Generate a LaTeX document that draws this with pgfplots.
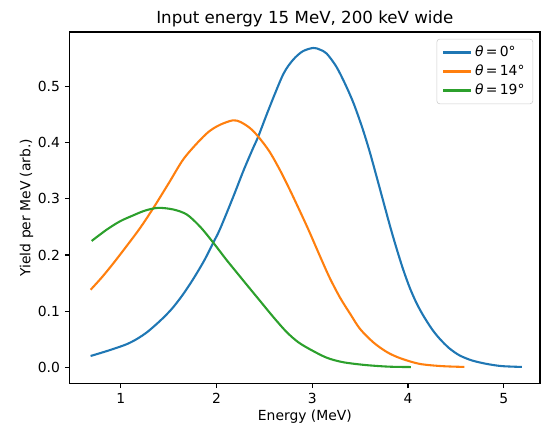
\documentclass[border=0pt]{standalone}
\usepackage{fontspec}
\setmainfont{DejaVu Sans}
\usepackage{pgfplots}
\pgfplotsset{compat=1.18}
\definecolor{tabblue}{HTML}{1F77B4}
\definecolor{taborange}{HTML}{FF7F0E}
\definecolor{tabgreen}{HTML}{2CA02C}

\begin{document}
\fontsize{10}{12}\selectfont
\begin{tikzpicture}
\begin{axis}[
  name=ax,
  scale only axis,
  width=338.6pt, height=252.9pt,
  xmin=0.465, xmax=5.38,
  ymin=-0.0285, ymax=0.5975,
  xtick={1,2,3,4,5},
  ytick={0,0.1,0.2,0.3,0.4,0.5},
  yticklabel style={/pgf/number format/.cd, fixed, fixed zerofill, precision=1},
  /pgf/number format/assume math mode=true,
  ticklabel style={font=\fontsize{10}{12}\selectfont},
  tick align=outside,
  xtick pos=bottom, ytick pos=left,
  major tick length=3.5pt,
  tick style={black, line width=0.8pt},
  axis line style={line width=0.8pt},
  title={Input energy 15 MeV, 200 keV wide},
  title style={font=\fontsize{12}{14}\selectfont, yshift=-5.8pt},
  xlabel={Energy (MeV)},
  ylabel={Yield per MeV (arb.)},
  label style={font=\fontsize{10}{12}\selectfont},
  xlabel style={yshift=2.2pt},
  ylabel style={yshift=-3.6pt},
  legend cell align=left,
  legend style={at={(1,1)}, anchor=north east, xshift=-5pt, yshift=-5pt,
    draw=black!20, rounded corners=2pt, font=\fontsize{10}{12}\selectfont,
    row sep=0.5pt, inner xsep=4pt, inner ysep=3pt},
  legend image code/.code={\draw[#1, line width=1.5pt] (0pt,0pt) -- (20pt,0pt);},
  every axis plot/.append style={line width=1.5pt, line join=round, smooth, tension=0.5},
]
% theta = 0 deg
\addplot[color=tabblue] coordinates {
  (0.683,0.020)(0.80,0.026)(0.92,0.0325)(1.06,0.041)(1.164,0.050)(1.27,0.062)
  (1.373,0.077)(1.46,0.091)(1.547,0.107)(1.65,0.130)(1.755,0.157)(1.87,0.190)
  (1.965,0.222)(2.035,0.246)(2.17,0.302)(2.28,0.350)(2.38,0.390)(2.435,0.411)
  (2.55,0.462)(2.696,0.522)(2.80,0.548)(2.90,0.563)(3.01,0.569)(3.08,0.566)
  (3.15,0.559)(3.25,0.536)(3.34,0.506)(3.43,0.471)(3.52,0.428)(3.60,0.384)
  (3.70,0.322)(3.81,0.253)(3.88,0.212)(3.95,0.174)(4.02,0.141)(4.09,0.114)
  (4.16,0.092)(4.25,0.068)(4.33,0.051)(4.43,0.034)(4.54,0.021)(4.67,0.012)
  (4.82,0.006)(4.98,0.002)(5.19,0.0005)
};
\addlegendentry{\textit{θ}\,=\,0°}
% theta = 14 deg
\addplot[color=taborange] coordinates {
  (0.683,0.138)(0.80,0.160)(0.92,0.185)(1.06,0.216)(1.20,0.248)(1.34,0.284)
  (1.50,0.328)(1.65,0.370)(1.80,0.400)(1.92,0.420)(2.035,0.432)(2.17,0.440)
  (2.25,0.437)(2.35,0.426)(2.435,0.411)(2.55,0.385)(2.66,0.352)(2.76,0.318)
  (2.86,0.282)(2.96,0.245)(3.08,0.198)(3.18,0.160)(3.29,0.124)(3.40,0.094)
  (3.50,0.068)(3.64,0.044)(3.78,0.027)(3.92,0.016)(4.12,0.006)(4.35,0.002)
  (4.59,0.0005)
};
\addlegendentry{\textit{θ}\,=\,14°}
% theta = 19 deg
\addplot[color=tabgreen] coordinates {
  (0.694,0.225)(0.85,0.245)(0.99,0.260)(1.12,0.270)(1.25,0.279)(1.39,0.284)
  (1.55,0.281)(1.69,0.272)(1.83,0.250)(1.965,0.222)(2.10,0.192)(2.20,0.171)
  (2.31,0.148)(2.45,0.119)(2.59,0.090)(2.73,0.063)(2.85,0.045)(2.975,0.032)
  (3.15,0.017)(3.32,0.009)(3.55,0.004)(3.80,0.001)(4.03,0.0003)
};
\addlegendentry{\textit{θ}\,=\,19°}
\end{axis}
\pgfresetboundingbox
\path[use as bounding box] ([shift={(-50.2pt,-30.0pt)}]ax.south west)
  rectangle ([shift={(0.7pt,23.0pt)}]ax.north east);
\end{tikzpicture}
\end{document}
